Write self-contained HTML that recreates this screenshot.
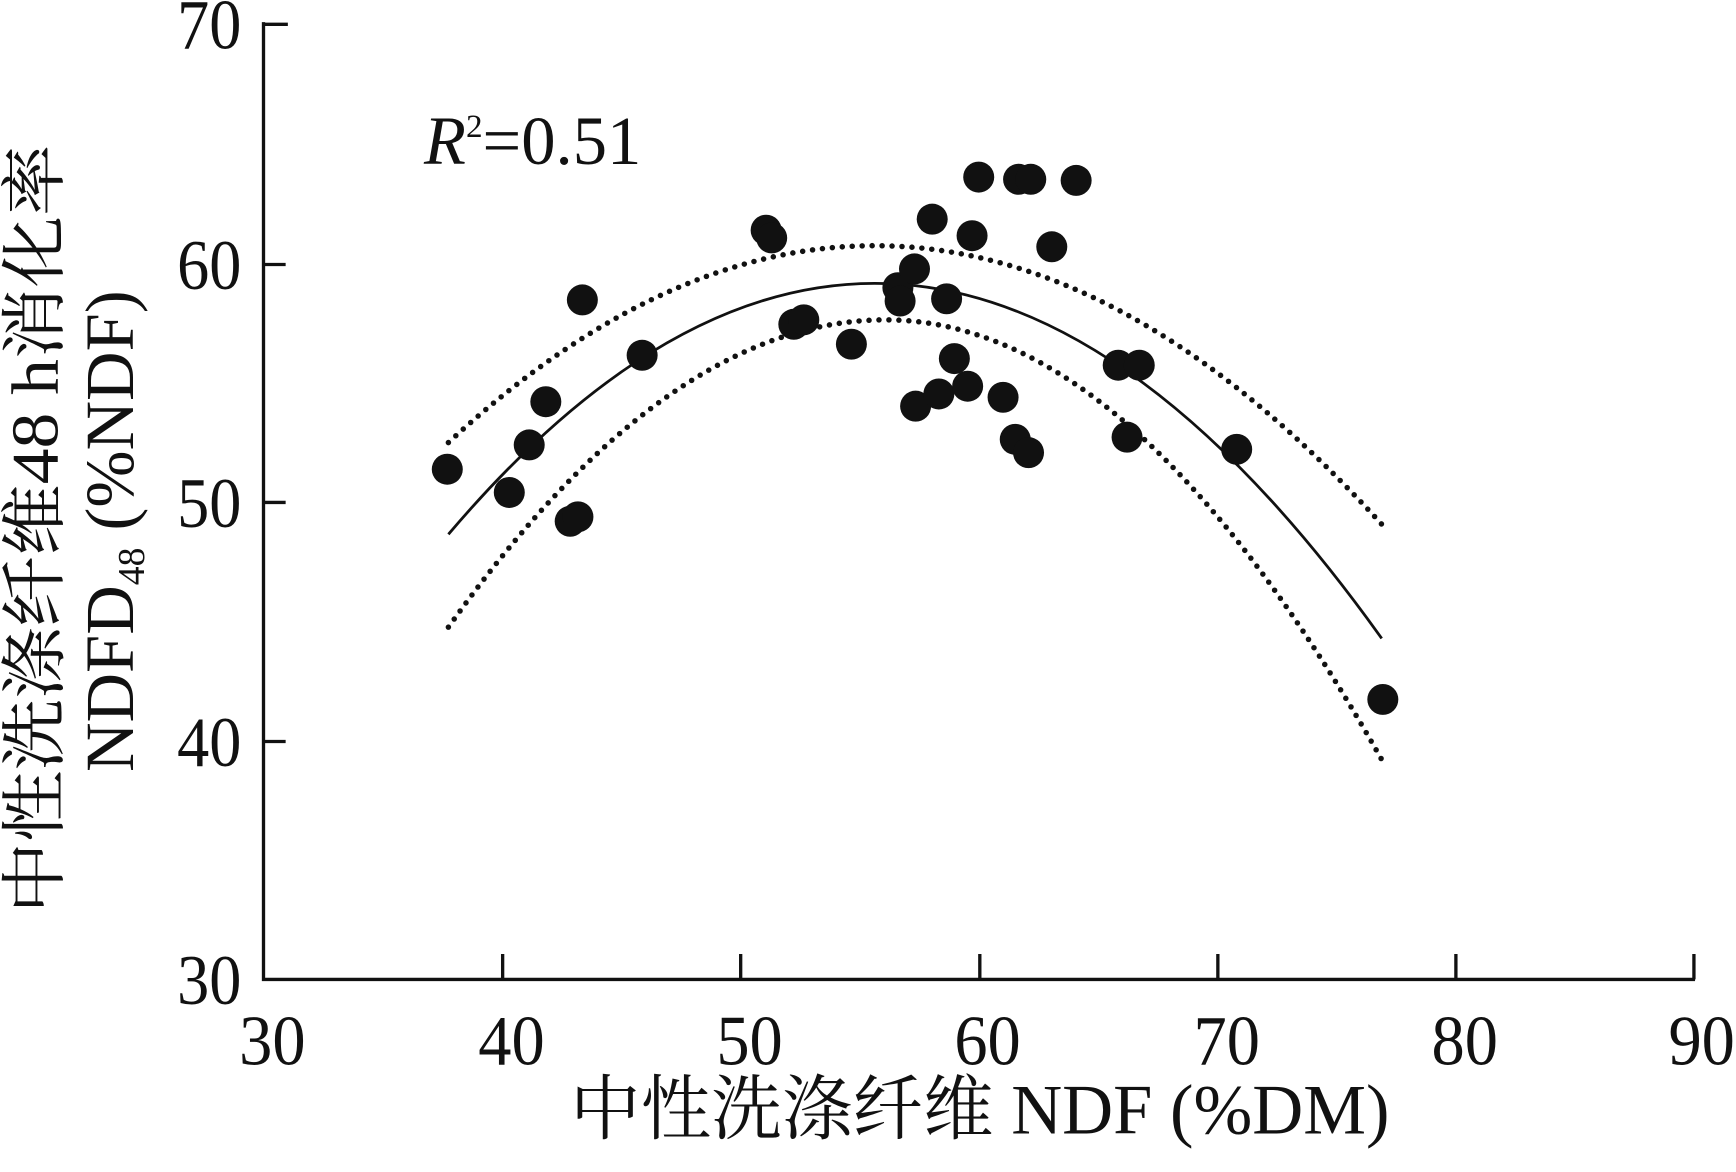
<!DOCTYPE html>
<html><head><meta charset="utf-8"><style>
html,body{margin:0;padding:0;background:#fff;}
svg{display:block;}
text{font-family:"Liberation Serif","Noto Serif CJK SC",serif;fill:#111;}
</style></head><body>
<svg width="1736" height="1172" viewBox="0 0 1568 1059" preserveAspectRatio="none">
<g stroke="#111" stroke-width="3" fill="none">
<path d="M238,20 V885 H1531"/>
<path d="M238,22 H260 M238,239 H258 M238,454 H258 M238,670 H258"/>
<path d="M454,885 V862 M669,885 V862 M885,885 V862 M1100,885 V862 M1315,885 V862 M1530,885 V862"/>
</g>
<g font-size="64" text-anchor="end">
<text x="218" y="44" textLength="58" lengthAdjust="spacingAndGlyphs">70</text>
<text x="218" y="261" textLength="58" lengthAdjust="spacingAndGlyphs">60</text>
<text x="218" y="476" textLength="58" lengthAdjust="spacingAndGlyphs">50</text>
<text x="218" y="692" textLength="58" lengthAdjust="spacingAndGlyphs">40</text>
<text x="218" y="907" textLength="58" lengthAdjust="spacingAndGlyphs">30</text>
</g>
<g font-size="64" text-anchor="middle">
<text x="246" y="962" textLength="60" lengthAdjust="spacingAndGlyphs">30</text>
<text x="462" y="962" textLength="60" lengthAdjust="spacingAndGlyphs">40</text>
<text x="677" y="962" textLength="60" lengthAdjust="spacingAndGlyphs">50</text>
<text x="892" y="962" textLength="60" lengthAdjust="spacingAndGlyphs">60</text>
<text x="1108" y="962" textLength="60" lengthAdjust="spacingAndGlyphs">70</text>
<text x="1323" y="962" textLength="60" lengthAdjust="spacingAndGlyphs">80</text>
<text x="1537" y="962" textLength="60" lengthAdjust="spacingAndGlyphs">90</text>
</g>
<text x="885" y="1024" font-size="64" text-anchor="middle" textLength="740" lengthAdjust="spacingAndGlyphs">中性洗涤纤维 NDF (%DM)</text>
<g transform="translate(52,478) rotate(-90)">
<text x="0" y="0" font-size="60" text-anchor="middle" textLength="695" lengthAdjust="spacingAndGlyphs">中性洗涤纤维48 h消化率</text>
</g>
<g transform="translate(120,480) rotate(-90)">
<text x="0" y="0" font-size="62" text-anchor="middle">NDFD<tspan font-size="34" dy="10">48</tspan><tspan dy="-10"> (%NDF)</tspan></text>
</g>
<text x="383" y="148" font-size="62"><tspan font-style="italic">R</tspan><tspan font-size="30" dy="-24">2</tspan><tspan dy="24">=0.51</tspan></text>
<path d="M405,482.8 Q826.5,-13.7 1248,576.9" stroke="#111" stroke-width="2.5" fill="none"/>
<g stroke="#111" stroke-width="5" stroke-linecap="round" stroke-dasharray="0 9" fill="none">
<path d="M405,399.9 Q826.5,10.4 1248,473.7"/>
<path d="M405,566.7 Q602.5,289 800,289 Q1024,289 1248,686.4"/>
</g>
<g fill="#111">
<circle cx="404" cy="424" r="14"/><circle cx="460" cy="445" r="14"/><circle cx="478" cy="402" r="14"/><circle cx="493" cy="363" r="14"/><circle cx="515" cy="471" r="14"/><circle cx="522" cy="467" r="14"/><circle cx="526" cy="271" r="14"/><circle cx="580" cy="321" r="14"/><circle cx="692" cy="208" r="14"/><circle cx="697" cy="215" r="14"/><circle cx="717" cy="293" r="14"/><circle cx="726" cy="289" r="14"/><circle cx="769" cy="311" r="14"/><circle cx="811" cy="260" r="14"/><circle cx="813" cy="272" r="14"/><circle cx="826" cy="243" r="14"/><circle cx="827" cy="367" r="14"/><circle cx="842" cy="198" r="14"/><circle cx="848" cy="356" r="14"/><circle cx="855" cy="270" r="14"/><circle cx="862" cy="324" r="14"/><circle cx="874" cy="349" r="14"/><circle cx="878" cy="213" r="14"/><circle cx="884" cy="160" r="14"/><circle cx="906" cy="359" r="14"/><circle cx="917" cy="397" r="14"/><circle cx="920" cy="162" r="14"/><circle cx="929" cy="409" r="14"/><circle cx="931" cy="162" r="14"/><circle cx="950" cy="223" r="14"/><circle cx="972" cy="163" r="14"/><circle cx="1010" cy="330" r="14"/><circle cx="1018" cy="395" r="14"/><circle cx="1029" cy="330" r="14"/><circle cx="1117" cy="406" r="14"/><circle cx="1249" cy="632" r="14"/>
</g>
</svg>
</body></html>
